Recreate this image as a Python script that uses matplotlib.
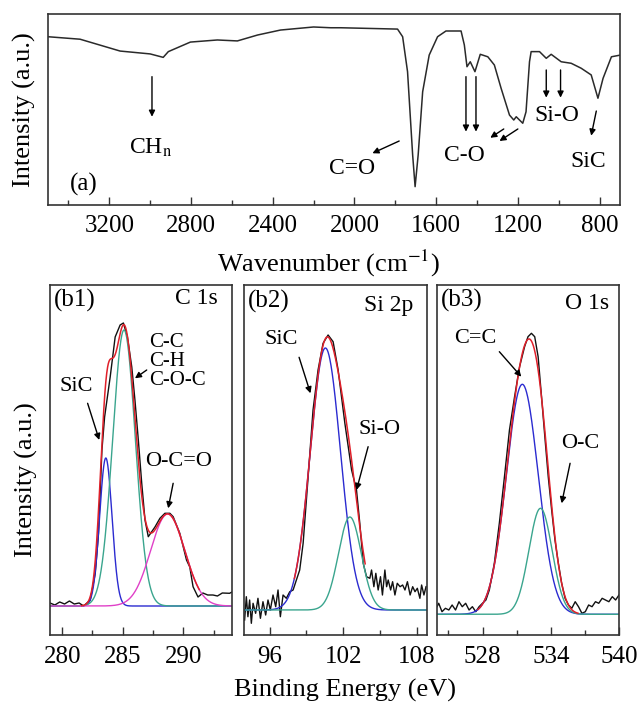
import numpy as np
import matplotlib
matplotlib.use('Agg')
import matplotlib.pyplot as plt
from matplotlib.ticker import MultipleLocator

plt.rcParams['font.family'] = ['Liberation Serif', 'DejaVu Serif']
plt.rcParams['mathtext.fontset'] = 'stix'

# ---------------- data: FTIR spectrum (a) ----------------
ftir_wn = [3500, 3343, 3147, 3000, 2936, 2911, 2803, 2671, 2573, 2474, 2362, 2200,
           2116, 2067, 1789, 1764, 1740, 1715, 1703, 1688, 1666, 1634, 1593, 1552,
           1478, 1462, 1449, 1433, 1410, 1384, 1347, 1315, 1282, 1241, 1220, 1208,
           1176, 1160, 1143, 1135, 1094, 1061, 1037, 988, 939, 890, 841, 808, 783,
           742, 698]
ftir_int = [88.1, 86.8, 80.6, 79.1, 77.3, 80.3, 85.3, 86.4, 85.9, 89.0, 91.6, 93.2,
            92.8, 92.8, 92.1, 88.1, 69.8, 26.2, 9.6, 26.2, 59.3, 78.5, 88.1, 91.1,
            91.1, 83.8, 72.4, 75.0, 69.8, 78.9, 77.6, 73.3, 61.1, 47.1, 44.5, 46.2,
            42.8, 48.8, 75.0, 80.3, 80.3, 76.8, 78.9, 75.0, 74.2, 71.6, 68.1, 55.9, 66.3,
            77.6, 78.5]
ftir_ticks = [3200, 2800, 2400, 2000, 1600, 1200, 800]

# ---------------- data: XPS (b1) C 1s ----------------
c1s_be = [279.0, 279.4, 279.8, 280.2, 280.6, 281.0, 281.4, 281.77, 282.32, 282.73,
          283.0, 283.28, 283.5, 283.96, 284.37, 284.78, 285.05, 285.38, 285.74, 286.0,
          286.28, 286.56, 286.83, 287.1, 287.65, 288.06, 288.47, 288.88, 289.15,
          289.70, 290.25, 290.52, 290.79, 291.2, 291.6, 292.0, 292.43, 292.8, 293.2,
          293.8, 294.0]
c1s_int = [32, 30, 33, 31, 34, 31, 32, 29, 35, 61.7, 101.7, 185, 218, 258, 298, 310,
           312, 298, 268, 235, 195, 151.7, 115, 98.3, 108, 116.7, 121.7, 121.7, 118.3,
           101.7, 75, 68, 48.3, 38, 42, 40, 40, 39, 42, 41.7, 43]
c1s_labels = ['SiC', 'C-C/C-H/C-O-C', 'O-C=O']
c1s_centers = [283.6, 285.1, 288.7]
c1s_heights = [148, 276, 92]
c1s_fwhm = [1.2, 2.2, 3.3]
c1s_base = 29

# ---------------- data: XPS (b2) Si 2p ----------------
si2p_be = [93.95, 94.09, 94.22, 94.36, 94.50, 94.64, 94.85, 95.04, 95.24, 95.45, 95.67,
           95.86, 96.05, 96.27, 96.49, 96.68, 96.87, 97.09, 97.36, 97.64, 97.91, 98.18,
           98.45, 98.73, 99.14, 99.54, 99.95, 100.36, 100.77, 101.18, 101.59, 102.14,
           102.69, 103.09, 103.36, 103.64, 103.91, 104.18, 104.32, 104.51, 104.67,
           104.86, 105.05, 105.21, 105.41, 105.55, 105.68, 105.88, 106.04, 106.23,
           106.42, 106.65, 106.86, 107.05, 107.25, 107.47, 107.68, 107.87, 108.06,
           108.27, 108.41, 108.60, 108.77]
si2p_int = [15, 38.3, 18.3, 35, 11.7, 31.7, 21.7, 36.7, 16.7, 33.3, 20, 35, 25, 40, 28.3,
            45, 18.3, 40, 36.7, 43.3, 45, 55, 65, 91.7, 158.3, 225, 265, 291.7, 300,
            293.3, 265, 211.7, 165, 145, 111.7, 71.7, 58.3, 56.7, 65, 48.3, 61.7, 45,
            58.3, 40, 65, 48.3, 55, 45, 53.3, 40, 51.7, 48.3, 50, 45, 53.3, 40, 48.3,
            43.3, 46.7, 36.7, 50, 40, 48.3]
si2p_labels = ['SiC', 'Si-O']
si2p_centers = [100.55, 102.55]
si2p_heights = [262, 93]
si2p_fwhm = [2.9, 2.2]
si2p_base = 25

# ---------------- data: XPS (b3) O 1s ----------------
o1s_be = [524.0, 524.15, 524.44, 524.74, 525.04, 525.33, 525.63, 525.93, 526.22, 526.52,
          526.82, 527.11, 527.41, 527.70, 528.00, 528.30, 528.60, 529.04, 529.48, 529.93,
          530.37, 530.82, 531.26, 531.70, 532.00, 532.30, 532.59, 532.89, 533.19,
          533.48, 533.78, 534.08, 534.37, 534.67, 534.96, 535.26, 535.56, 535.85,
          536.15, 536.44, 536.74, 537.04, 537.33, 537.63, 537.93, 538.22, 538.52,
          538.81, 539.11, 539.41, 539.70, 540.0]
o1s_int = [28.3, 31.7, 23.3, 26.7, 25, 30, 25, 33.3, 28.3, 31.7, 25, 28.3, 23.3, 28.3,
           31.7, 35, 45, 71.7, 111.7, 158.3, 205, 238.3, 268.3, 288.3, 298.3, 301.7,
           298.3, 278.3, 238.3, 198.3, 158.3, 125, 95, 71.7, 51.7, 36.7, 30, 26.7, 33.3,
           28.3, 21.7, 23.3, 30, 28.3, 33.3, 31.7, 36.7, 35, 33.3, 38.3, 35, 40]
o1s_labels = ['C=C', 'O-C']
o1s_centers = [531.5, 533.1]
o1s_heights = [230, 106]
o1s_fwhm = [3.3, 2.4]
o1s_base = 20.7

# ---------------- figure ----------------
W, H = 641, 703
fig = plt.figure(figsize=(W / 100, H / 100), dpi=100)


def px_axes(x0, y0, x1, y1):
    return fig.add_axes([x0 / W, 1 - y1 / H, (x1 - x0) / W, (y1 - y0) / H])


SPINE = '#333333'
RED = '#e0202a'
BLUE = '#2b2bd0'
TEAL = '#3aa58e'
MAG = '#e040c8'


def style(ax, pad):
    for s in ax.spines.values():
        s.set_color(SPINE)
        s.set_linewidth(1.2)
    ax.tick_params(axis='x', which='both', direction='in', top=False, bottom=True,
                   labelsize=18, pad=pad, color=SPINE)
    ax.tick_params(axis='x', which='major', length=6, width=1)
    ax.tick_params(axis='x', which='minor', length=3.5, width=1)
    ax.tick_params(axis='y', which='both', left=False, right=False, labelleft=False)


def arrow(ax, tail, head):
    ax.annotate('', xy=head, xytext=tail,
                arrowprops=dict(arrowstyle='-|>', color='black', lw=1.0,
                                mutation_scale=9, shrinkA=0, shrinkB=0))


# ---- (a) FTIR ----
ax = px_axes(48, 14, 620, 205)
ax.plot(ftir_wn, ftir_int, color='#2a2a2a', lw=1.1)
ax.set_xlim(3500, 700)
ax.set_ylim(0, 100)
ax.set_xticks(ftir_ticks)
ax.xaxis.set_minor_locator(MultipleLocator(200))
style(ax, 7)
fs = 17
arrow(ax, (2991, 67.2), (2991, 46.2))
ax.text(3000, 29.8, r'CH$_{\mathrm{n}}$', fontsize=fs, ha='center', va='center')
arrow(ax, (1781, 33.5), (1912, 27.1))
ax.text(2010, 19.2, 'C=O', fontsize=fs, ha='center', va='center')
for w in (1454, 1405):
    arrow(ax, (w, 67.2), (w, 38.4))
arrow(ax, (1269, 39.8), (1335, 35.2))
arrow(ax, (1200, 39.8), (1290, 33.5))
ax.text(1462, 25.8, 'C-O', fontsize=fs, ha='center', va='center')
for w in (1061, 991):
    arrow(ax, (w, 70.7), (w, 56.2))
ax.text(1007, 47.1, 'Si-O', fontsize=fs, ha='center', va='center')
arrow(ax, (816, 49.2), (841, 36.3))
ax.text(857, 23, 'SiC', fontsize=fs, ha='center', va='center')
ax.text(22 / 572, 0.105, '(a)', transform=ax.transAxes, fontsize=18, ha='left', va='center')

fig.text(328 / W, 1 - 263 / H, r'Wavenumber (cm$^{-1}$)', fontsize=19, ha='center',
         va='center')
fig.text(24 / W, 1 - 110 / H, 'Intensity (a.u.)', fontsize=19, ha='center', va='center',
         rotation=90)


def gauss(x, c, h, f):
    return h * np.exp(-4 * np.log(2) * (x - c) ** 2 / f ** 2)


def xps_panel(x0, x1, xlim, major, minor, be, inten, centers, heights, fwhm, base,
              colors, fit_range):
    ax = px_axes(x0, 285, x1, 635)
    ax.plot(be, inten, color='#111111', lw=1.0)
    xx = np.linspace(xlim[0], xlim[1], 800)
    comps = []
    for c, h, f, col in zip(centers, heights, fwhm, colors):
        g = gauss(xx, c, h, f)
        comps.append(g)
        ax.plot(xx, base + g, color=col, lw=1.0)
    m = (xx >= fit_range[0]) & (xx <= fit_range[1])
    ax.plot(xx[m], base + np.sum(comps, axis=0)[m], color=RED, lw=1.1)
    ax.set_xlim(*xlim)
    ax.set_ylim(0, 350)
    ax.xaxis.set_major_locator(MultipleLocator(major))
    ax.xaxis.set_minor_locator(MultipleLocator(minor))
    style(ax, 8)
    return ax


# ---- (b1) ----
b1 = xps_panel(50, 232, (279, 294), 5, 2.5, c1s_be, c1s_int, c1s_centers, c1s_heights,
               c1s_fwhm, c1s_base, [BLUE, TEAL, MAG], (281.6, 291.3))
b1.text(279.3, 335, '(b1)', fontsize=18, ha='left', va='center')
b1.text(291.07, 336.7, 'C 1s', fontsize=17, ha='center', va='center')
b1.text(281.17, 248.3, 'SiC', fontsize=16, ha='center', va='center')
b1.text(287.2, 273.3, 'C-C\nC-H\nC-O-C', fontsize=15, ha='left', va='center',
        linespacing=1.0)
b1.text(289.56, 173.3, 'O-C=O', fontsize=16, ha='center', va='center')
arrow(b1, (282.10, 231.7), (283.06, 195))
arrow(b1, (286.97, 265), (286.0, 256.7))
arrow(b1, (289.15, 151.7), (288.74, 126.7))

# ---- (b2) ----
b2 = xps_panel(244, 427, (93.9, 108.85), 6, 3, si2p_be, si2p_int, si2p_centers,
               si2p_heights, si2p_fwhm, si2p_base, [BLUE, TEAL], (98.0, 103.8))
b2.text(94.2, 333.3, '(b2)', fontsize=18, ha='left', va='center')
b2.text(105.68, 330, 'Si 2p', fontsize=17, ha='center', va='center')
b2.text(96.95, 295, 'SiC', fontsize=16, ha='center', va='center')
b2.text(105.0, 205, 'Si-O', fontsize=16, ha='center', va='center')
arrow(b2, (98.40, 277.7), (99.33, 241.7))
arrow(b2, (104.04, 188.3), (103.09, 145))

# ---- (b3) ----
b3 = xps_panel(437, 619, (524, 540), 6, 3, o1s_be, o1s_int, o1s_centers, o1s_heights,
               o1s_fwhm, o1s_base, [BLUE, TEAL], (527.6, 536.4))
b3.text(524.3, 335, '(b3)', fontsize=18, ha='left', va='center')
b3.text(537.19, 331.7, 'O 1s', fontsize=17, ha='center', va='center')
b3.text(527.41, 296.7, 'C=C', fontsize=16, ha='center', va='center')
b3.text(536.59, 191.7, 'O-C', fontsize=16, ha='center', va='center')
arrow(b3, (529.48, 283.3), (531.41, 258.3))
arrow(b3, (535.7, 171.7), (534.96, 131.7))

fig.text(345 / W, 1 - 690 / H, 'Binding Energy (eV)', fontsize=19, ha='center', va='center')
fig.text(26 / W, 1 - 480 / H, 'Intensity (a.u.)', fontsize=19, ha='center', va='center',
         rotation=90)

fig.savefig('out.png', dpi=100)
